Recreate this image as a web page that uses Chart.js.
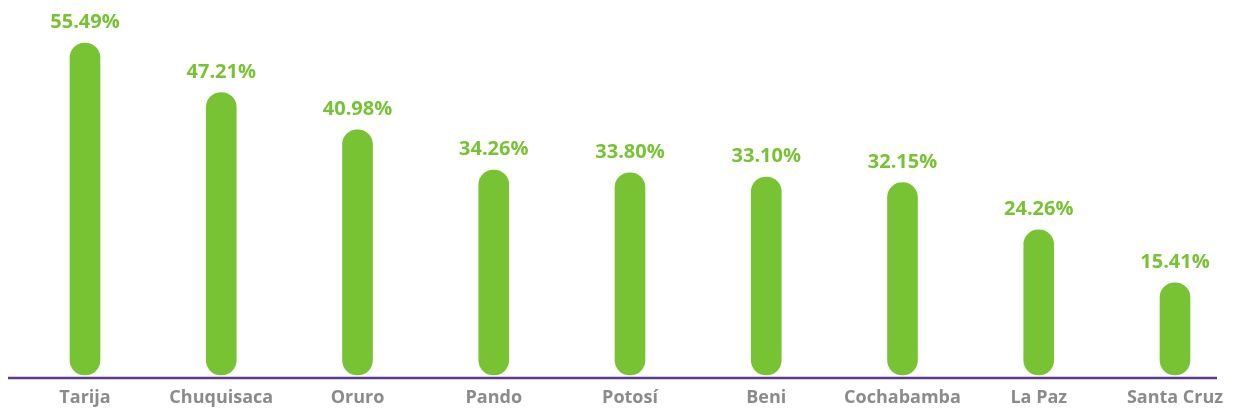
<!DOCTYPE html>
<html>
<head>
<meta charset="utf-8">
<script src="https://cdn.jsdelivr.net/npm/chart.js@4/dist/chart.umd.min.js"></script>
<style>
  html,body{margin:0;padding:0;background:#fff;}
  #wrap{width:1233px;height:411px;position:relative;}
</style>
</head>
<body>
<div id="wrap"><canvas id="chart"></canvas></div>
<script>
// datos
const departamentos = ['Tarija','Chuquisaca','Oruro','Pando','Potosí','Beni','Cochabamba','La Paz','Santa Cruz'];
const porcentajes   = [55.49, 47.21, 40.98, 34.26, 33.80, 33.10, 32.15, 24.26, 15.41];
const etiquetas     = ['55.49%','47.21%','40.98%','34.26%','33.80%','33.10%','32.15%','24.26%','15.41%'];

const verde  = '#77c333';
const morado = '#5d3b93';
const gris   = '#8b8b8b';

// etiquetas de valor encima de cada barra + linea base
const labelsPlugin = {
  id:'labelsPlugin',
  afterDatasetsDraw(chart){
    const ctx = chart.ctx;
    const meta = chart.getDatasetMeta(0);
    ctx.save();
    ctx.fillStyle = verde;
    ctx.font = 'bold 20px "Open Sans"';
    ctx.textAlign = 'center';
    ctx.textBaseline = 'alphabetic';
    meta.data.forEach((bar,i)=>{
      ctx.fillText(etiquetas[i], bar.x, bar.y - 15);
    });
    // eje
    const yBase = chart.chartArea.bottom;
    ctx.strokeStyle = morado;
    ctx.lineWidth = 2.5;
    ctx.beginPath();
    ctx.moveTo(8, yBase);
    ctx.lineTo(1217, yBase);
    ctx.stroke();
    ctx.restore();
  }
};

new Chart(document.getElementById('chart'), {
  type:'bar',
  data:{
    labels: departamentos,
    datasets:[{
      data: porcentajes,
      backgroundColor: verde,
      barThickness: 30,
      borderRadius: 15,
      borderSkipped: false,
      clip: false
    }]
  },
  options:{
    responsive:true,
    maintainAspectRatio:false,
    animation:false,
    layout:{ padding:{ left:85, right:58, top:16, bottom:0 } },
    plugins:{ legend:{ display:false }, tooltip:{ enabled:false } },
    scales:{
      x:{
        offset:false,
        grid:{ display:false, drawTicks:false },
        border:{ display:false },
        afterFit(scale){ scale.height = 33; },
        ticks:{
          color: gris,
          font:{ family:'"Open Sans"', size:18, weight:'bold' },
          padding: 9,
          maxRotation:0,
          autoSkip:false
        }
      },
      y:{
        display:false,
        min:-0.5,
        max:60
      }
    }
  },
  plugins:[labelsPlugin]
});
</script>
</body>
</html>
